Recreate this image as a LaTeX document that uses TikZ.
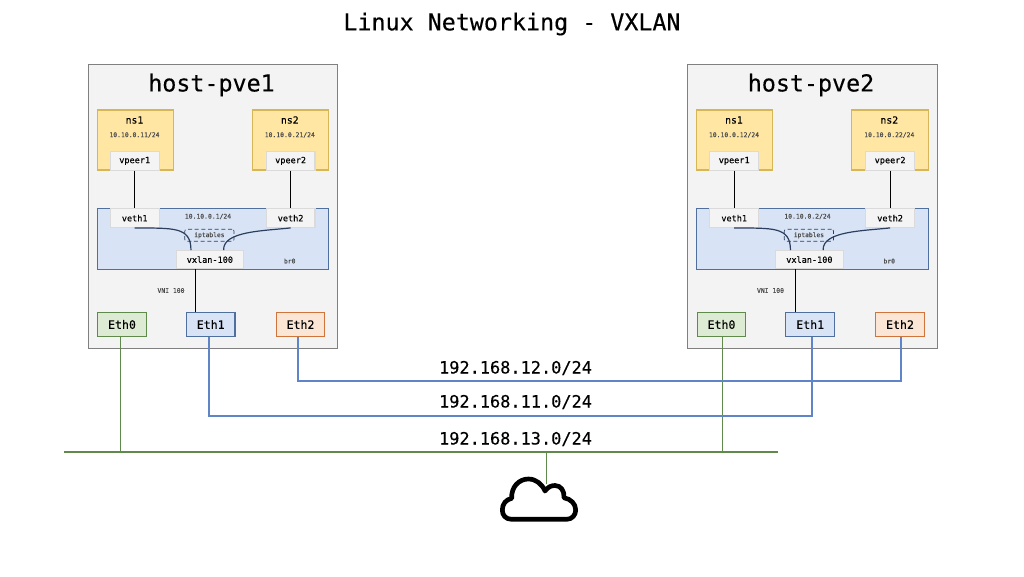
\documentclass[tikz,border=0pt]{standalone}
\usepackage{fontspec}
\setmainfont[FakeBold=0.25]{DejaVu Sans Mono}
\usetikzlibrary{positioning,calc}
\definecolor{hostfill}{HTML}{F3F3F3}
\definecolor{hostline}{HTML}{808080}
\definecolor{nsfill}{HTML}{FFE6A3}
\definecolor{nsline}{HTML}{D6B656}
\definecolor{brfill}{HTML}{D8E3F5}
\definecolor{brline}{HTML}{4F709F}
\definecolor{portfill}{HTML}{F4F4F4}
\definecolor{portline}{HTML}{DADADA}
\definecolor{greenfill}{HTML}{DDEBD5}
\definecolor{greenline}{HTML}{5F8A4B}
\definecolor{bluefill}{HTML}{D8E3F5}
\definecolor{blueline}{HTML}{5F85C8}
\definecolor{orangefill}{HTML}{FBE6D5}
\definecolor{orangeline}{HTML}{D0743C}
\definecolor{wirecol}{HTML}{2C3E5E}

\begin{document}
\begin{tikzpicture}
  [
  x=0.75pt, y=-0.75pt,
  inner sep=0pt, line width=0.8pt,
  host/.style={rectangle, minimum width=187.3pt, minimum height=212.6pt, draw=hostline, fill=hostfill},
  netns/.style={rectangle, minimum width=57.2pt, minimum height=45pt, draw=nsline, fill=nsfill},
  bridge/.style={rectangle, minimum width=173.6pt, minimum height=45.8pt, draw=brline, fill=brfill},
  port/.style={rectangle, minimum width=36.6pt, minimum height=13.9pt, draw=portline, fill=portfill, font=\fontsize{6.4}{7}\selectfont},
  vxlan/.style={port, minimum width=50.6pt, minimum height=13.4pt},
  nic/.style={rectangle, minimum width=36.4pt, minimum height=18.3pt, font=\fontsize{8.7}{10}\selectfont},
  tiny/.style={text=black!70, font=\fontsize{4.8}{6}\selectfont},
  iptables/.style={rectangle, minimum width=37pt, minimum height=9pt, rounded corners=1.5pt, densely dashed, draw=wirecol, line width=0.5pt, text=black!70, font=\fontsize{4.7}{6}\selectfont},
  wire/.style={draw=black, line width=0.8pt},
  curvewire/.style={draw=wirecol, line width=0.9pt},
  lan/.style={draw=blueline, line width=1.3pt},
  ground/.style={draw=greenline, line width=1.4pt},
  heading/.style={font=\fontsize{17.5}{20}\selectfont},
  subnet/.style={font=\fontsize{12.7}{15}\selectfont}
  ]

\useasboundingbox (0,0) rectangle (1024,576);

\node[heading] (title) at (512,24) {Linux Networking - VXLAN};

\foreach \h/\dx/\ipa/\ipb/\ipc in {1/0/11/21/1, 2/599.5/12/22/2} {
  \node[host] (host\h) at (212.9+\dx,206.3) {};
  \node[heading] (name\h) at (211.5+\dx,85) {host-pve\h};

  \node[netns] (nsa\h) at (135.3+\dx,140) {};
  \node[netns] (nsb\h) at (290.5+\dx,140) {};
  \node[font=\fontsize{7.35}{9}\selectfont] (nsalabel\h) at (134.5+\dx,120) {ns1};
  \node[font=\fontsize{7.35}{9}\selectfont] (nsblabel\h) at (289.8+\dx,120) {ns2};
  \node[tiny] (nsaip\h) at (134.5+\dx,135) {10.10.0.\ipa/24};
  \node[tiny] (nsbip\h) at (289.8+\dx,135) {10.10.0.\ipb/24};

  \node[bridge] (br\h) at (213+\dx,238.8) {};

  \node[port] (vpeera\h) at (134.7+\dx,160.9) {vpeer1};
  \node[port] (vpeerb\h) at (290.6+\dx,160.9) {vpeer2};
  \node[port] (vetha\h) at (134.7+\dx,218.1) {veth1};
  \node[port] (vethb\h) at (290.6+\dx,218.1) {veth2};
  \node[vxlan] (vx\h) at (209.9+\dx,259.6) {vxlan-100};
  \node[iptables] (ipt\h) at (209.4+\dx,235.3) {iptables};

  \node[tiny] (brip\h) at (208+\dx,216.5) {10.10.0.\ipc/24};
  \node[tiny] (brname\h) at (289.7+\dx,261) {br0};
  \node[tiny] (vni\h) at (171+\dx,290.5) {VNI 100};

  \node[nic, draw=greenline, fill=greenfill] (etha\h) at (122+\dx,324.5) {Eth0};
  \node[nic, draw=brline, fill=bluefill] (ethb\h) at (210.7+\dx,324.5) {Eth1};
  \node[nic, draw=orangeline, fill=orangefill] (ethc\h) at (300.5+\dx,324.5) {Eth2};

  \draw[wire] (vpeera\h) -- (vetha\h);
  \draw[wire] (vpeerb\h) -- (vethb\h);
  \draw[wire] ([xshift=-10.65pt]vx\h.south) -- ([xshift=-11.25pt]ethb\h.north);

  \draw[curvewire] (vetha\h.south) .. controls +(38,0.5) and +(0,-24) .. ([xshift=-14.2pt]vx\h.north);
  \draw[curvewire] (vethb\h.south) .. controls +(-27,3) and +(-1,-19) .. ([xshift=10.3pt]vx\h.north);
}

% networks
\coordinate (netL) at (64,452.3);
\coordinate (netR) at (777.7,452.3);
\coordinate (lanb) at (600,415.7);
\coordinate (lanc) at (600,380.7);
\coordinate (cloudtop) at (546.7,484);

\draw[ground] (netL) -- (netR);
\draw[ground, line width=0.9pt] ([xshift=-1.3pt]etha1.south) -- ([xshift=-1.3pt]etha1.south |- netL);
\draw[ground, line width=0.9pt] ([xshift=0.6pt]etha2.south) -- ([xshift=0.6pt]etha2.south |- netL);
\draw[ground, line width=0.7pt] (cloudtop |- netL) -- (cloudtop);

\draw[lan] ([xshift=-1.3pt]ethb1.south) |- (lanb) -| ([xshift=1.1pt]ethb2.south);
\draw[lan] ([xshift=-2.1pt]ethc1.south) |- (lanc) -| ([xshift=0.5pt]ethc2.south);

\node[subnet] (neta) at (515.5,368) {192.168.12.0/24};
\node[subnet] (netb) at (515.5,402) {192.168.11.0/24};
\node[subnet] (netc) at (515.5,439) {192.168.13.0/24};

% cloud
\draw[line width=3.5pt, line join=round, fill=white] (511.7,519.3)
  .. controls (505.5,519.3) and (502.3,515) .. (502.3,510)
  .. controls (502.3,504) and (506,499.5) .. (511.7,498.3)
  .. controls (511,487) and (519,479) .. (528.3,479)
  .. controls (536,479) and (542,484) .. (545,491)
  .. controls (548,487) and (551,485.5) .. (555,485.5)
  .. controls (561,485.5) and (564.5,491) .. (564,497.7)
  .. controls (571,499) and (575.7,504) .. (575.7,510)
  .. controls (575.7,515) and (572,519.3) .. (566.7,519.3)
  -- cycle;

\end{tikzpicture}
\end{document}
